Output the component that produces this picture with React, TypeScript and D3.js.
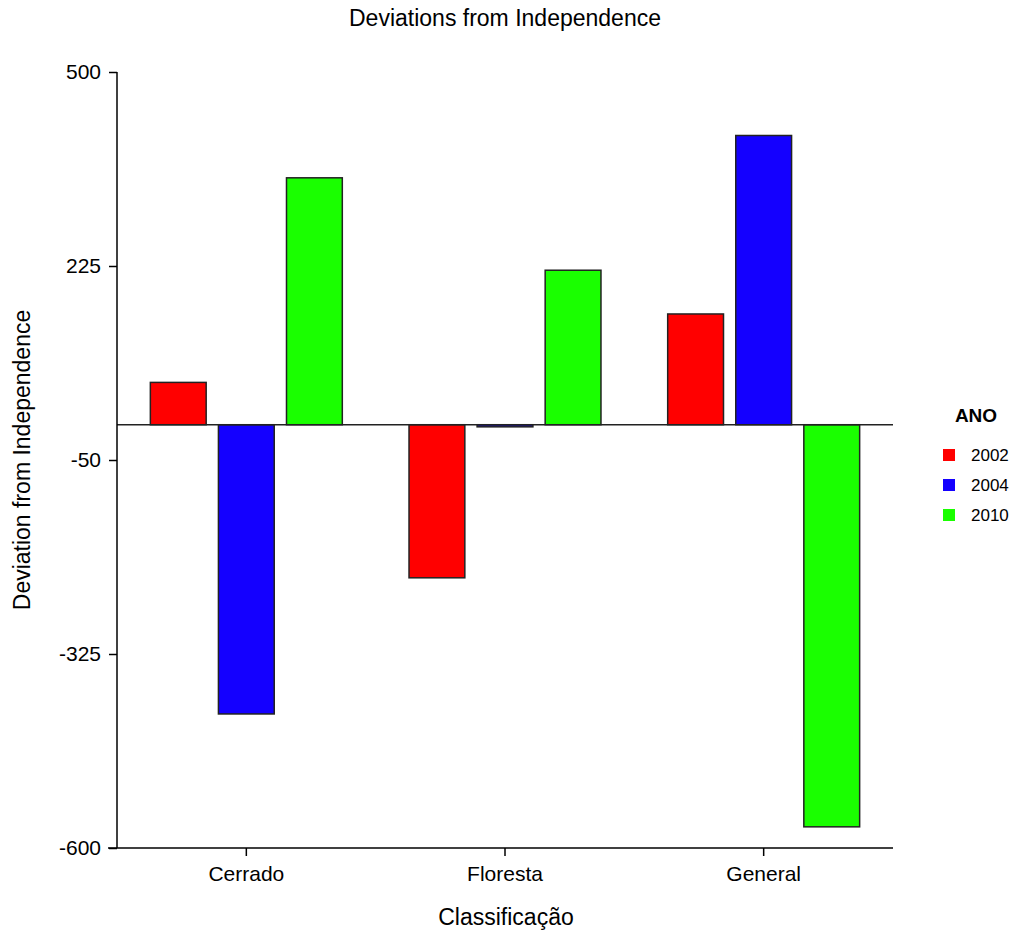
import React, { useEffect, useRef } from "react";
import * as d3 from "d3";

const categories = ["Cerrado", "Floresta", "General"];
const years = ["2002", "2004", "2010"];
const values2002 = [60, -217, 157];
const values2004 = [-410, -3, 410];
const values2010 = [350, 219, -570];
const yTicks = [500, 225, -50, -325, -600];
const colors = ["#ff0000", "#1400ff", "#1aff00"];

export default function App() {
  const svgRef = useRef<SVGSVGElement>(null);

  useEffect(() => {
    const width = 1014;
    const height = 935;
    const margin = { left: 117, right: 121, top: 72, bottom: 87 };
    const font = "Arial, 'Liberation Sans', sans-serif";

    const svg = d3.select(svgRef.current).attr("width", width).attr("height", height);
    svg.selectAll("*").remove();

    const x = d3
      .scaleBand()
      .domain(categories)
      .range([margin.left, width - margin.right]);
    const y = d3
      .scaleLinear()
      .domain([-600, 500])
      .range([height - margin.bottom, margin.top]);

    const sub = d3
      .scaleBand()
      .domain(years)
      .range([0, x.bandwidth()])
      .paddingInner(0.18)
      .paddingOuter(0.49);

    const series = [values2002, values2004, values2010];
    const rows = categories.flatMap((c, i) =>
      years.map((yr, j) => ({ cat: c, year: yr, value: series[j][i], color: colors[j] }))
    );

    // bars
    svg
      .append("g")
      .selectAll("rect")
      .data(rows)
      .enter()
      .append("rect")
      .attr("x", (d) => (x(d.cat) as number) + (sub(d.year) as number))
      .attr("width", sub.bandwidth())
      .attr("y", (d) => y(Math.max(0, d.value)))
      .attr("height", (d) => Math.abs(y(d.value) - y(0)))
      .attr("fill", (d) => d.color)
      .attr("stroke", "#222")
      .attr("stroke-width", 1.5);

    // zero line
    svg
      .append("line")
      .attr("x1", margin.left)
      .attr("x2", width - margin.right)
      .attr("y1", y(0))
      .attr("y2", y(0))
      .attr("stroke", "#222")
      .attr("stroke-width", 1.5);

    // y axis
    const yAxis = svg
      .append("g")
      .attr("transform", `translate(${margin.left},0)`)
      .call(
        d3
          .axisLeft(y)
          .tickValues(yTicks)
          .tickSize(8)
          .tickPadding(8)
          .tickFormat((d) => String(d))
      );
    yAxis.select(".domain").attr("stroke", "#000").attr("stroke-width", 1.5).attr("d", `M0,${margin.top}V${height - margin.bottom}`);
    yAxis.selectAll("line").attr("stroke", "#000").attr("stroke-width", 1.5);
    yAxis.selectAll("text").attr("font-size", 21).attr("font-family", font).attr("fill", "#000");

    // x axis
    const xAxis = svg
      .append("g")
      .attr("transform", `translate(0,${height - margin.bottom})`)
      .call(d3.axisBottom(x).tickSize(8).tickPadding(10));
    xAxis.select(".domain").attr("stroke", "#000").attr("stroke-width", 1.5).attr("d", `M${margin.left - 9},0H${width - margin.right}`);
    xAxis.selectAll("line").attr("stroke", "#000").attr("stroke-width", 1.5);
    xAxis.selectAll("text").attr("font-size", 21).attr("font-family", font).attr("fill", "#000");

    // titles
    svg
      .append("text")
      .attr("x", 505)
      .attr("y", 26)
      .attr("text-anchor", "middle")
      .attr("font-size", 23)
      .attr("font-family", font)
      .text("Deviations from Independence");

    svg
      .append("text")
      .attr("x", 506)
      .attr("y", 925)
      .attr("text-anchor", "middle")
      .attr("font-size", 23)
      .attr("font-family", font)
      .text("Classificação");

    svg
      .append("text")
      .attr("transform", `translate(30,${460}) rotate(-90)`)
      .attr("text-anchor", "middle")
      .attr("font-size", 23)
      .attr("font-family", font)
      .text("Deviation from Independence");

    // legend
    const legend = svg.append("g");
    legend
      .append("text")
      .attr("x", 976)
      .attr("y", 422)
      .attr("text-anchor", "middle")
      .attr("font-size", 19)
      .attr("font-weight", "bold")
      .attr("font-family", font)
      .text("ANO");
    years.forEach((yr, i) => {
      legend
        .append("rect")
        .attr("x", 943)
        .attr("y", 449 + i * 30)
        .attr("width", 12)
        .attr("height", 12)
        .attr("fill", colors[i]);
      legend
        .append("text")
        .attr("x", 971)
        .attr("y", 461 + i * 30)
        .attr("font-size", 17)
        .attr("font-family", font)
        .text(yr);
    });
  }, []);

  return <svg ref={svgRef} style={{ position: "absolute", left: 0, top: 0 }} />;
}
